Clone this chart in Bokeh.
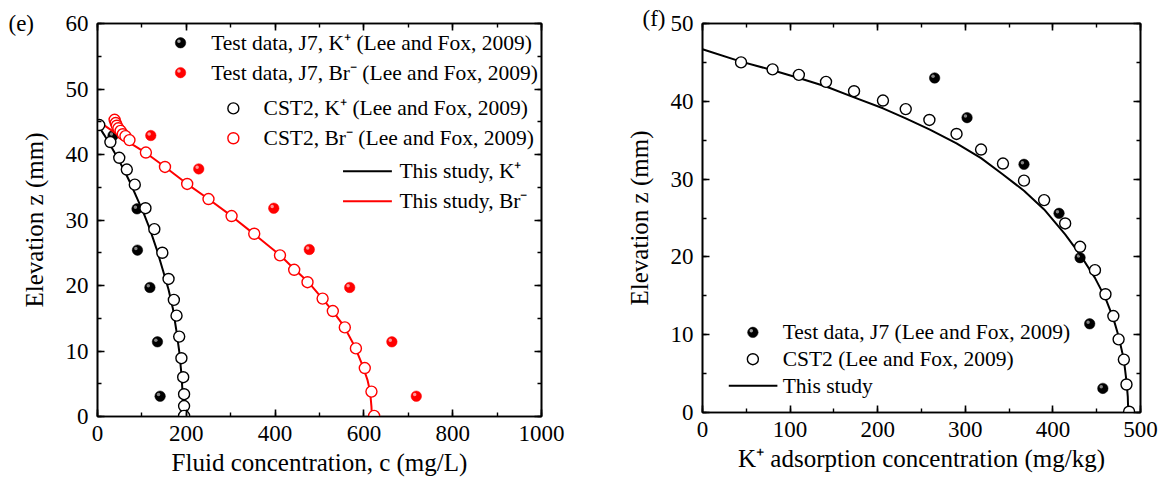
from bokeh.plotting import figure
from bokeh.layouts import row
from bokeh.models import Range1d, LinearAxis, SingleIntervalTicker, Label
from bokeh.embed import file_html
from bokeh.resources import INLINE

FONT = "Liberation Serif"
RED = "#ff0000"

# ---------------- (e) fluid concentration profiles ----------------
k_test_c = [35, 89, 90, 118, 135, 141]
k_test_z = [42.9, 31.7, 25.4, 19.7, 11.4, 3.1]

br_test_c = [120, 228, 397, 477, 568, 663, 718]
br_test_z = [42.9, 37.8, 31.8, 25.5, 19.7, 11.4, 3.1]

k_cst2_c = [4, 29, 49, 66, 84, 108, 128, 146, 160, 172, 178, 184, 189, 193, 195, 195, 195]
k_cst2_z = [44.5, 41.9, 39.5, 37.7, 35.4, 31.8, 28.6, 25.0, 21.0, 17.8, 15.4, 12.2, 8.9, 6.0, 3.4, 1.6, 0.1]

br_cst2_c = [38.5, 41, 43.5, 47, 52, 57, 63, 72, 109, 152, 202, 250, 302, 353, 411, 443,
             473, 507, 530, 557, 582, 602, 617, 623]
br_cst2_z = [45.3, 44.8, 44.4, 44.0, 43.6, 43.1, 42.8, 42.2, 40.3, 38.1, 35.5, 33.2, 30.6, 27.9, 24.6, 22.4,
             20.5, 18.0, 16.1, 13.6, 10.4, 7.4, 3.8, 0.1]

k_model_c = [0, 15, 30, 45, 60, 75, 90, 103, 118, 133, 147, 160, 170, 177, 184, 189, 192, 193]
k_model_z = [44.6, 43.0, 41.3, 39.5, 37.6, 35.5, 33.2, 31.2, 28.6, 25.6, 22.4, 19.4, 16.4, 13.4, 10.0, 6.5, 3.2, 0]

br_model_c = [12, 40, 70, 110, 150, 200, 250, 300, 350, 410, 445, 475, 505, 530, 555, 580,
              598, 608, 614, 617, 618]
br_model_z = [44.6, 43.3, 41.9, 40.2, 38.2, 35.6, 33.2, 30.7, 28.0, 24.7, 22.4, 20.5, 18.1, 16.1, 13.8, 10.6,
              7.6, 5.6, 3.8, 1.5, 0]

# ---------------- (f) adsorbed K+ profiles ----------------
ads_test_q = [265, 302, 367, 407, 431, 442, 457]
ads_test_z = [43.0, 37.9, 31.9, 25.6, 19.9, 11.4, 3.1]

ads_cst2_q = [44, 80, 110, 141, 173, 206, 232, 259, 290, 318, 343, 367, 390, 414, 431, 448,
              460, 469, 475, 481, 484, 487]
ads_cst2_z = [45.0, 44.1, 43.4, 42.5, 41.3, 40.1, 39.0, 37.6, 35.8, 33.8, 32.0, 29.8, 27.3, 24.3, 21.3, 18.3,
              15.2, 12.4, 9.4, 6.8, 3.6, 0.1]

ads_model_q = [0, 44, 80, 110, 141, 173, 206, 232, 259, 290, 318, 343, 367, 390, 414, 431,
               448, 460, 469, 475, 481, 484, 485.5, 486]
ads_model_z = [46.7, 45.1, 44.0, 43.0, 41.9, 40.5, 39.1, 37.8, 36.4, 34.6, 32.7, 30.6, 28.5, 26.1, 22.9, 20.3,
               17.3, 14.7, 12.1, 9.8, 6.8, 4.0, 2.0, 0]

LEGEND_E = [
    ("ball", "black", "Test data, J7, K\u207a (Lee and Fox, 2009)"),
    ("ball", RED, "Test data, J7, Br\u207b (Lee and Fox, 2009)"),
    ("ring", "black", "CST2, K\u207a (Lee and Fox, 2009)"),
    ("ring", RED, "CST2, Br\u207b (Lee and Fox, 2009)"),
    ("line", "black", "This study, K\u207a"),
    ("line", RED, "This study, Br\u207b"),
]
LEGEND_F = [
    ("ball", "black", "Test data, J7 (Lee and Fox, 2009)"),
    ("ring", "black", "CST2 (Lee and Fox, 2009)"),
    ("line", "black", "This study"),
]


def style_axis(ax, labels=True):
    ax.axis_line_color = "black"
    ax.axis_line_width = 1.6
    ax.major_tick_line_color = "black"
    ax.minor_tick_line_color = "black"
    ax.major_tick_line_width = 1.6
    ax.minor_tick_line_width = 1.4
    ax.major_tick_in = 7
    ax.major_tick_out = 0
    ax.minor_tick_in = 4
    ax.minor_tick_out = 0
    ax.major_label_text_font = FONT
    ax.axis_label_text_font = FONT
    ax.axis_label_text_font_style = "normal"
    ax.axis_label_text_color = "black"
    if labels:
        ax.major_label_text_color = "black"
        ax.major_label_text_font_size = "23px"
        ax.axis_label_text_font_size = "25px"
    else:
        # mirrored frame axis: ticks only
        ax.major_label_text_color = None
        ax.major_label_text_font_size = "0px"
        ax.major_label_standoff = 0


def make_panel(xmax, ymax, xstep, ystep, fw, fh, borders, xlabel, ylabel):
    bl, br, bt, bb = borders
    p = figure(frame_width=fw, frame_height=fh, output_backend="svg", toolbar_location=None,
               x_range=Range1d(0, xmax), y_range=Range1d(0, ymax),
               min_border_left=bl, min_border_right=br, min_border_top=bt, min_border_bottom=bb,
               x_axis_label=xlabel, y_axis_label=ylabel)
    p.grid.visible = False
    p.outline_line_color = "black"
    p.outline_line_width = 1.6
    p.background_fill_color = "white"
    p.border_fill_color = "white"
    p.xaxis.ticker = SingleIntervalTicker(interval=xstep, num_minor_ticks=2)
    p.yaxis.ticker = SingleIntervalTicker(interval=ystep, num_minor_ticks=2)
    style_axis(p.xaxis[0])
    style_axis(p.yaxis[0])
    p.xaxis.major_label_standoff = 9
    p.yaxis.major_label_standoff = 9
    p.xaxis.axis_label_standoff = 5
    p.yaxis.axis_label_standoff = 15
    top = LinearAxis(ticker=SingleIntervalTicker(interval=xstep, num_minor_ticks=2))
    right = LinearAxis(ticker=SingleIntervalTicker(interval=ystep, num_minor_ticks=2))
    style_axis(top, labels=False)
    style_axis(right, labels=False)
    p.add_layout(top, "above")
    p.add_layout(right, "right")
    return p


def balls(p, xs, ys, color, hl):
    # shaded sphere: solid disc plus a small offset highlight
    ux = (p.x_range.end - p.x_range.start) / p.frame_width
    uy = (p.y_range.end - p.y_range.start) / p.frame_height
    p.scatter(xs, ys, size=10.5, fill_color=color, line_color=color, line_width=0.5)
    p.scatter([x - 1.6 * ux for x in xs], [y + 1.6 * uy for y in ys], size=3.5,
              fill_color=hl, line_color=None, fill_alpha=0.85)


def rings(p, xs, ys, color):
    p.scatter(xs, ys, size=11, fill_color="white", line_color=color, line_width=1.4)


def legend(p, entries, key_fx, text_fx, rows_fy, line_span):
    xr, yr = p.x_range, p.y_range
    fx = lambda f: xr.start + f * (xr.end - xr.start)
    fy = lambda f: yr.start + f * (yr.end - yr.start)
    for (kind, color, text), kx, tx, ry in zip(entries, key_fx, text_fx, rows_fy):
        if kind == "ball":
            balls(p, [fx(kx)], [fy(ry)], color, "#bbbbbb" if color == "black" else "#ffc0c0")
        elif kind == "ring":
            rings(p, [fx(kx)], [fy(ry)], color)
        else:
            p.line([fx(line_span[0]), fx(line_span[1])], [fy(ry), fy(ry)], line_color=color, line_width=2)
        p.add_layout(Label(x=fx(tx), y=fy(ry), text=text, text_font=FONT, text_font_size="21.5px",
                           text_color="black", text_baseline="middle", text_align="left"))


def panel_tag(p, text, sx, sy):
    # panel letter hosted by the (roomy) right-hand margin so it is not clipped
    # to the frame and does not widen the y-axis margin; sx is measured from
    # the frame's right edge, sy from its bottom edge
    p.add_layout(Label(x=sx, y=sy, x_units="screen", y_units="screen",
                       text=text, text_font=FONT, text_font_size="23px", text_color="black",
                       text_baseline="middle", text_align="left"), "right")


# ---- panel (e)
pe = make_panel(1000, 60, 200, 10, 444, 393, (97, 59, 19, 67),
                "Fluid concentration, c (mg/L)", "Elevation z (mm)")
balls(pe, k_test_c, k_test_z, "black", "#9a9a9a")
balls(pe, br_test_c, br_test_z, RED, "#ffb0b0")
pe.line(k_model_c, k_model_z, line_color="black", line_width=2)
pe.line(br_model_c, br_model_z, line_color=RED, line_width=2)
rings(pe, k_cst2_c, k_cst2_z, "black")
rings(pe, br_cst2_c, br_cst2_z, RED)
legend(pe, LEGEND_E,
       key_fx=[0.187, 0.187, 0.306, 0.306, None, None],
       text_fx=[0.256, 0.256, 0.374, 0.374, 0.68, 0.68],
       rows_fy=[0.951, 0.875, 0.784, 0.708, 0.624, 0.548],
       line_span=(0.553, 0.663))
panel_tag(pe, "(e)", -533, 393)

# ---- panel (f)
pf = make_panel(500, 50, 100, 10, 438, 389, (102, 25, 23, 67),
                "K\u207a adsorption concentration (mg/kg)", "Elevation z (mm)")
balls(pf, ads_test_q, ads_test_z, "black", "#9a9a9a")
pf.line(ads_model_q, ads_model_z, line_color="black", line_width=2)
rings(pf, ads_cst2_q, ads_cst2_z, "black")
legend(pf, LEGEND_F,
       key_fx=[0.115, 0.115, None],
       text_fx=[0.183, 0.183, 0.183],
       rows_fy=[0.206, 0.137, 0.069],
       line_span=(0.060, 0.171))
panel_tag(pf, "(f)", -498, 394)

layout = row(pe, pf, spacing=0)
open("out.html", "w").write(file_html(layout, INLINE))
